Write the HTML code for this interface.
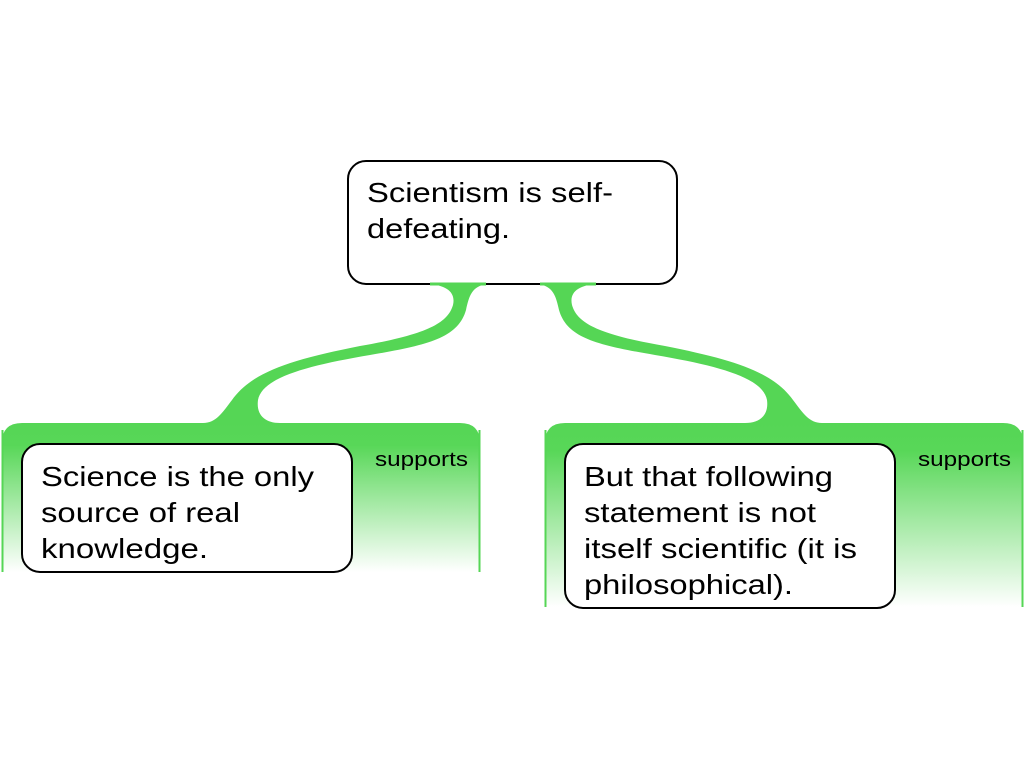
<!DOCTYPE html>
<html><head><meta charset="utf-8"><style>
body{margin:0;width:1024px;height:768px;background:#fff;overflow:hidden;font-family:"Liberation Sans",sans-serif;}
svg{position:absolute;left:0;top:0}
.t{font-family:"Liberation Sans",sans-serif;fill:#000}
</style></head><body>
<svg width="1024" height="768" viewBox="0 0 1024 768">
<defs>
<linearGradient id="g" x1="0" y1="0" x2="0" y2="1">
<stop offset="0" stop-color="#55d655"/>
<stop offset="0.15" stop-color="#58d758"/>
<stop offset="1" stop-color="#ffffff"/>
</linearGradient>
</defs>
<path d="M2,572 L2,443 Q2,423 22,423 L460,423 Q480,423 480,443 L480,572 Z" fill="url(#g)"/>
<line x1="2.5" y1="430" x2="2.5" y2="572" stroke="#55d655" stroke-width="2"/>
<line x1="479.5" y1="430" x2="479.5" y2="572" stroke="#55d655" stroke-width="2"/>
<path d="M545,607 L545,443 Q545,423 565,423 L1003,423 Q1023,423 1023,443 L1023,607 Z" fill="url(#g)"/>
<line x1="545.5" y1="430" x2="545.5" y2="607" stroke="#55d655" stroke-width="2"/>
<line x1="1022.5" y1="430" x2="1022.5" y2="607" stroke="#55d655" stroke-width="2"/>
<path d="M428,284 L487,284 C472,286 469,296 466,310 C458,338 428,345 370,355 C305,366 262,378 258,400 C256,415 265,423 280,423 L203,423 C216,423 222,413 232,400 C252,372 290,360 360,346 C430,334 448,322 453,305 C456,292 446,285 428,284 Z" fill="#55d655"/>
<g transform="translate(1025,0) scale(-1,1)"><path d="M428,284 L487,284 C472,286 469,296 466,310 C458,338 428,345 370,355 C305,366 262,378 258,400 C256,415 265,423 280,423 L203,423 C216,423 222,413 232,400 C252,372 290,360 360,346 C430,334 448,322 453,305 C456,292 446,285 428,284 Z" fill="#55d655"/></g>
<rect x="348" y="161" width="329" height="123" rx="18" fill="#fff" stroke="#000" stroke-width="2"/>
<line x1="430" y1="284" x2="486" y2="284" stroke="#55d655" stroke-width="3"/>
<line x1="540" y1="284" x2="596" y2="284" stroke="#55d655" stroke-width="3"/>
<rect x="22" y="444" width="330" height="128" rx="18" fill="#fff" stroke="#000" stroke-width="2"/>
<rect x="565" y="444" width="330" height="164" rx="18" fill="#fff" stroke="#000" stroke-width="2"/>
<g class="t" font-size="28">
<text x="367" y="202" textLength="246" lengthAdjust="spacingAndGlyphs">Scientism is self-</text>
<text x="367" y="238" textLength="143" lengthAdjust="spacingAndGlyphs">defeating.</text>
<text x="41" y="486" textLength="273" lengthAdjust="spacingAndGlyphs">Science is the only</text>
<text x="41" y="522" textLength="199" lengthAdjust="spacingAndGlyphs">source of real</text>
<text x="41" y="558" textLength="167" lengthAdjust="spacingAndGlyphs">knowledge.</text>
<text x="584" y="486" textLength="249" lengthAdjust="spacingAndGlyphs">But that following</text>
<text x="584" y="522" textLength="232" lengthAdjust="spacingAndGlyphs">statement is not</text>
<text x="584" y="558" textLength="273" lengthAdjust="spacingAndGlyphs">itself scientific (it is</text>
<text x="584" y="594" textLength="209" lengthAdjust="spacingAndGlyphs">philosophical).</text>
</g>
<text class="t" font-size="20" x="375" y="466" textLength="93" lengthAdjust="spacingAndGlyphs">supports</text>
<text class="t" font-size="20" x="918" y="466" textLength="93" lengthAdjust="spacingAndGlyphs">supports</text>
</svg>
</body></html>
